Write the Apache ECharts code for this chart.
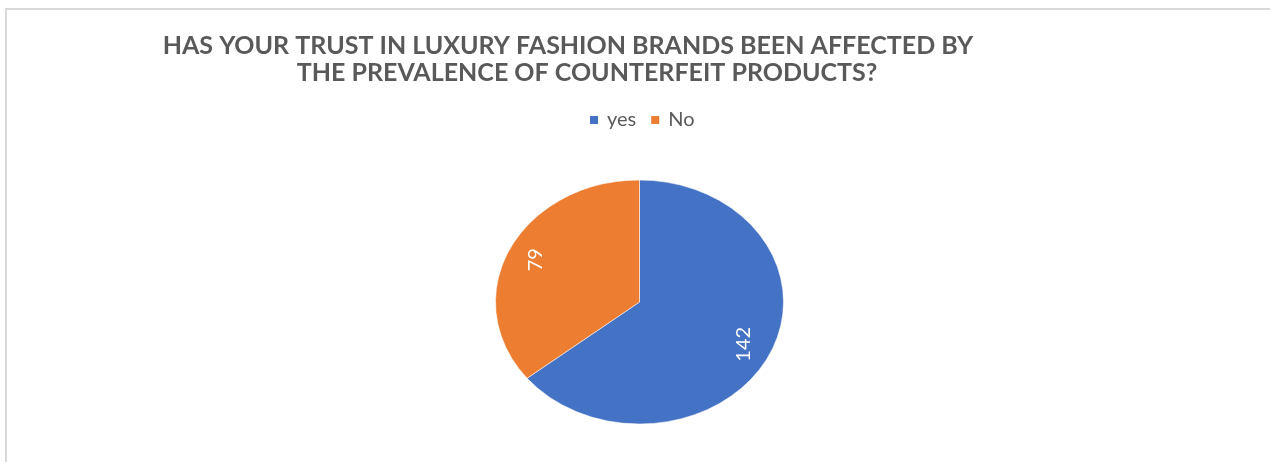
<!DOCTYPE html>
<html>
<head>
<meta charset="utf-8">
<script src="https://cdn.jsdelivr.net/npm/echarts@6/dist/echarts.min.js"></script>
<style>
  html, body { margin: 0; padding: 0; background: #fff; }
  #chart { width: 1270px; height: 462px; }
</style>
</head>
<body>
<div id="chart"></div>
<script>
// Survey answers
const categories = ['yes', 'No'];
const values = [142, 79];
const colors = ['#4472C4', '#ED7D31'];
const titleLines = [
  'HAS YOUR TRUST IN LUXURY FASHION BRANDS BEEN AFFECTED BY',
  'THE PREVALENCE OF COUNTERFEIT PRODUCTS?'
];

// Pie geometry: an ellipse centred in the plot area
const CX = 639.5, CY = 302, RX = 144, RY = 122;
const LABEL_R = 0.8;
const FONT = 'Lato, "Open Sans", sans-serif';

const total = values.reduce((a, b) => a + b, 0);

function sliceSeries(i) {
  const before = values.slice(0, i).reduce((a, b) => a + b, 0);
  return {
    type: 'custom',
    name: categories[i],
    coordinateSystem: 'none',
    itemStyle: { color: colors[i] },
    data: [[before, values[i]]],
    renderItem: function (params, api) {
      const start = api.value(0);
      const v = api.value(1);
      const a0 = -Math.PI / 2 + (start / total) * Math.PI * 2;
      const a1 = a0 + (v / total) * Math.PI * 2;
      const mid = (a0 + a1) / 2;
      return {
        type: 'group',
        children: [
          {
            type: 'sector',
            shape: { cx: CX, cy: CY, r0: 0, r: RY, startAngle: a0, endAngle: a1, clockwise: true },
            scaleX: RX / RY,
            originX: CX,
            originY: CY,
            style: { fill: api.visual('color'), stroke: '#ffffff', lineWidth: 0.5 }
          },
          {
            type: 'text',
            x: CX + RX * LABEL_R * Math.cos(mid),
            y: CY + RY * LABEL_R * Math.sin(mid),
            rotation: Math.PI / 2,
            style: {
              text: String(v),
              fill: '#ffffff',
              font: '20px ' + FONT,
              align: 'center',
              verticalAlign: 'middle'
            }
          }
        ]
      };
    }
  };
}

const chart = echarts.init(document.getElementById('chart'), null, { renderer: 'canvas' });
chart.setOption({
  backgroundColor: '#ffffff',
  animation: false,
  title: [
    {
      text: titleLines[0],
      left: 568, top: 33, textAlign: 'center', padding: 0,
      textStyle: { fontFamily: FONT, fontWeight: 'bold', fontSize: 25, color: '#595959' }
    },
    {
      text: titleLines[1],
      left: 587, top: 60, textAlign: 'center', padding: 0,
      textStyle: { fontFamily: FONT, fontWeight: 'bold', fontSize: 25, color: '#595959' }
    }
  ],
  legend: {
    data: categories,
    left: 590, top: 110, padding: 0,
    icon: 'rect', itemWidth: 8, itemHeight: 8, itemGap: 15,
    textStyle: { fontFamily: FONT, fontSize: 20, color: '#595959', padding: [0, 0, 0, 4] }
  },
  graphic: [
    {
      type: 'rect',
      shape: { x: 6, y: 9, width: 1300, height: 500 },
      style: { fill: 'none', stroke: '#d9d9d9', lineWidth: 2 },
      silent: true
    }
  ],
  series: categories.map((c, i) => sliceSeries(i))
});
</script>
</body>
</html>
